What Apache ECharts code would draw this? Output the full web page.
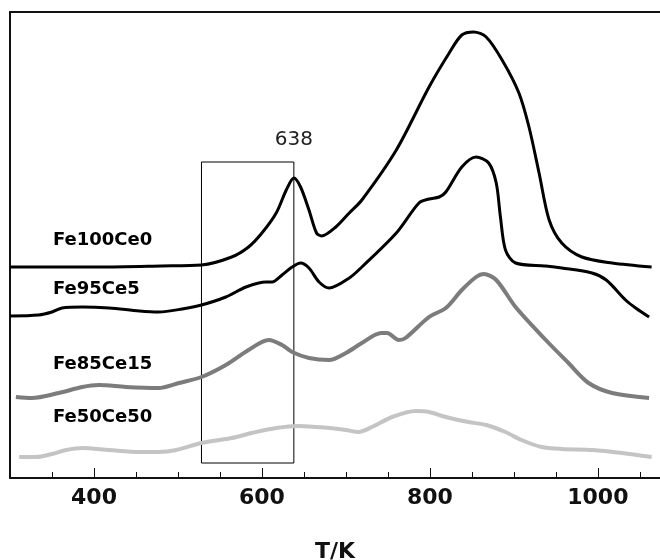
<!DOCTYPE html>
<html>
<head>
<meta charset="utf-8">
<script src="https://cdn.jsdelivr.net/npm/echarts@6/dist/echarts.min.js"></script>
<style>
  html, body { margin: 0; padding: 0; background: #fff; }
  #grafica { width: 660px; height: 560px; }
</style>
</head>
<body>
<div id="grafica"></div>
<script>
// T/K and intensity (a.u.)
var fe100ce0 = [[300,211],[406,211],[480,212],[528,213],[564,221],[584,231],[600,245],[617,265],[629,288],[638,300],
  [646,291],[656,268],[665,245],[671,242],[688,251],[704,265],[719,278],[760,328],[799,391],[823,425],[838,443],
  [852,446],[867,441],[886,418],[906,385],[918,351],[930,305],[942,258],[957,235],[981,221],[1017,215],[1064,211]];

var fe95ce5 = [[300,162],[334,163],[350,166],[362,170],[386,171],[418,170],[454,167],[477,166],[505,169],[528,173],
  [557,181],[581,191],[605,196],[612,196],[624,203],[636,211],[646,215],[656,210],[668,196],[680,190],[704,200],
  [719,211],[760,245],[787,275],[799,279],[811,281],[819,286],[838,311],[855,321],[870,315],[879,295],[884,261],
  [890,228],[902,215],[938,212],[957,210],[993,205],[1010,198],[1033,178],[1045,170],[1061,161]];

var fe85ce15 = [[307,81],[326,80],[358,85],[386,91],[406,93],[438,91],[477,90],[501,95],[528,101],[557,113],
  [584,128],[608,138],[624,133],[636,126],[656,120],[680,118],[700,125],[719,135],[742,145],[749,145],[763,138],
  [771,140],[799,161],[819,170],[838,188],[855,201],[864,204],[879,198],[902,171],[938,138],[965,115],[989,95],
  [1017,85],[1061,80]];

var fe50ce50 = [[311,21],[331,21],[350,24],[367,28],[386,30],[418,28],[454,26],[477,26],[498,28],[528,35],
  [564,40],[588,45],[617,50],[644,52],[680,50],[700,48],[715,46],[731,51],[755,61],[783,67],[799,66],[819,61],
  [846,56],[867,53],[890,46],[909,38],[933,31],[957,29],[993,28],[1029,25],[1064,21]];

var nombres = ["Fe100Ce0", "Fe95Ce5", "Fe85Ce15", "Fe50Ce50"];
var colores = ["#000000", "#000000", "#7c7c7c", "#c4c4c4"];
var majorTicks = [400, 600, 800, 1000];
var caja = [[528, 15], [638, 316]];
var pico = 638;

var dom = document.getElementById('grafica');
var myChart = echarts.init(dom, null, { renderer: 'canvas' });

var fuente = 'DejaVu Sans';

function Serie(i, datos, ancho) {
  return {
    name: nombres[i],
    type: 'line',
    data: datos,
    smooth: 0.3,
    symbol: 'none',
    xAxisIndex: 0,
    lineStyle: { color: colores[i], width: ancho },
    z: 3
  };
}

var s0 = Serie(0, fe100ce0, 3);
s0.markArea = {
  silent: true,
  itemStyle: { color: 'rgba(0,0,0,0)', borderColor: '#000', borderWidth: 1 },
  data: [[{ coord: caja[0] }, { coord: caja[1] }]]
};
s0.markPoint = {
  silent: true,
  symbol: 'circle',
  symbolSize: 0,
  label: { show: true, formatter: String(pico), color: '#222', fontFamily: fuente, fontSize: 20, position: 'inside' },
  data: [{ coord: [pico, 338] }]
};

var option = {
  animation: false,
  grid: { left: 10, top: 12, width: 650, height: 466, outerBoundsMode: 'none', containLabel: false },
  xAxis: [
    {
      type: 'value', min: 300, max: 1074, interval: 50, position: 'bottom',
      axisLine: { show: true, lineStyle: { color: '#111', width: 2 } },
      axisTick: { show: true, inside: true, length: 6, lineStyle: { color: '#111', width: 1 } },
      axisLabel: { show: false },
      splitLine: { show: false }
    },
    {
      type: 'value', min: 300, max: 1074, position: 'bottom',
      axisLine: { show: false },
      axisTick: { show: true, inside: true, length: 10, customValues: majorTicks, lineStyle: { color: '#111', width: 1 } },
      axisLabel: {
        show: true, customValues: majorTicks, color: '#111', fontFamily: fuente, fontWeight: 'bold', fontSize: 22, margin: 9,
        formatter: function (v) { return String(v); }
      },
      splitLine: { show: false },
      name: 'T/K',
      nameLocation: 'middle',
      nameGap: 63,
      nameTextStyle: { color: '#111', fontFamily: fuente, fontWeight: 'bold', fontSize: 22 }
    },
    {
      type: 'value', min: 300, max: 1074, position: 'top',
      axisLine: { show: true, lineStyle: { color: '#111', width: 2 } },
      axisTick: { show: false },
      axisLabel: { show: false },
      splitLine: { show: false }
    }
  ],
  yAxis: {
    type: 'value', min: 0, max: 466,
    axisLine: { show: true, lineStyle: { color: '#111', width: 2 } },
    axisTick: { show: false },
    axisLabel: { show: false },
    splitLine: { show: false }
  },
  graphic: [
    { type: 'text', left: 53, top: 231, style: { text: nombres[0], fill: '#000', font: 'bold 18px "DejaVu Sans"' } },
    { type: 'text', left: 53, top: 280, style: { text: nombres[1], fill: '#000', font: 'bold 18px "DejaVu Sans"' } },
    { type: 'text', left: 53, top: 355, style: { text: nombres[2], fill: '#000', font: 'bold 18px "DejaVu Sans"' } },
    { type: 'text', left: 53, top: 408, style: { text: nombres[3], fill: '#000', font: 'bold 18px "DejaVu Sans"' } }
  ],
  series: [
    s0,
    Serie(1, fe95ce5, 3),
    Serie(2, fe85ce15, 4),
    Serie(3, fe50ce50, 4)
  ]
};

myChart.setOption(option);
window.addEventListener('resize', myChart.resize);
</script>
</body>
</html>
